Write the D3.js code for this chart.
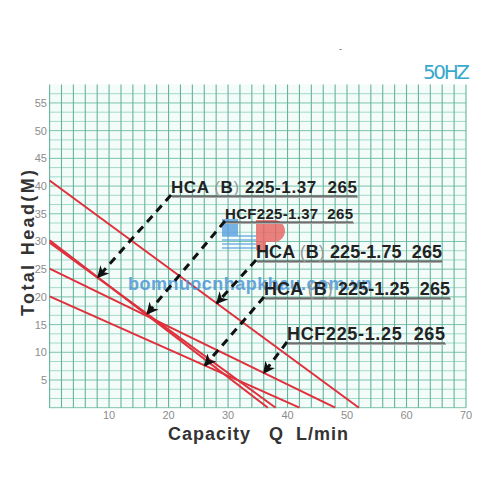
<!DOCTYPE html>
<html>
<head>
<meta charset="utf-8">
<script src="https://cdn.jsdelivr.net/npm/d3@7"></script>
<style>
  body { margin: 0; background: #fff; }
  svg { display: block; }
</style>
</head>
<body>
<div id="chart"></div>
<script>
// pump curves, each drawn as a straight line from shut-off head to max flow
var curveNames = ["HCA (B) 225-1.37  265", "HCF225-1.37  265", "HCA (B) 225-1.75  265",
  "HCA (B) 225-1.25  265", "HCF225-1.25  265"];
var curveFlow = [[0, 36.7], [0, 38], [0, 52], [0, 42], [0, 48]];
var curveHead = [[30.2, 0], [29.8, 0], [41, 0], [20.1, 0], [25.1, 0]];

// where each label's arrow hits its curve (flow value)
var arrowFlow = [8.1, 16.4, 28.1, 26.1, 36];

var xTicks = [10, 20, 30, 40, 50, 60, 70];
var yTicks = [5, 10, 15, 20, 25, 30, 35, 40, 45, 50, 55];

var width = 500, height = 500;
var svg = d3.select("#chart").append("svg")
  .attr("width", width)
  .attr("height", height);

var x = d3.scaleLinear().domain([0, 70]).range([49.6, 466]);
var y = d3.scaleLinear().domain([0, 58.33]).range([407.7, 84.5]);

// grid
var grid = svg.append("g").attr("class", "grid");
grid.append("rect")
  .attr("x", x(0)).attr("y", y(58.33))
  .attr("width", x(70) - x(0)).attr("height", y(0) - y(58.33))
  .attr("fill", "#f3fcf9");
grid.selectAll(".hline")
  .data(d3.range(0, 35).map(i => i * 5 / 3))
  .enter().append("line")
  .attr("class", "hline")
  .attr("x1", x(0)).attr("x2", x(70))
  .attr("y1", d => y(d)).attr("y2", d => y(d))
  .attr("stroke", (d, i) => i % 3 === 0 ? "#7cc3ae" : "#a3d9c9")
  .attr("stroke-width", 1);
grid.selectAll(".vline")
  .data(d3.range(0, 70.01, 2))
  .enter().append("line")
  .attr("class", "vline")
  .attr("x1", d => x(d)).attr("x2", d => x(d))
  .attr("y1", y(0)).attr("y2", y(58.33))
  .attr("stroke", "#66b39d")
  .attr("stroke-width", 1.1);

// tick labels
svg.selectAll(".xtick")
  .data(xTicks)
  .enter().append("text")
  .attr("class", "xtick")
  .attr("x", d => x(d))
  .attr("y", 419)
  .attr("text-anchor", "middle")
  .attr("fill", "#8c8c8c")
  .style("font-family", "Liberation Sans, Arial, sans-serif")
  .style("font-size", "11px")
  .text(d => d);

svg.selectAll(".ytick")
  .data(yTicks)
  .enter().append("text")
  .attr("class", "ytick")
  .attr("x", 47)
  .attr("y", d => y(d) + 4)
  .attr("text-anchor", "end")
  .attr("fill", "#8c8c8c")
  .style("font-family", "Liberation Sans, Arial, sans-serif")
  .style("font-size", "11px")
  .text(d => d);

// axis titles
svg.append("text")
  .attr("transform", "translate(34,243) rotate(-90)")
  .attr("text-anchor", "middle")
  .attr("fill", "#333")
  .attr("textLength", 146)
  .style("font-family", "Liberation Sans, Arial, sans-serif")
  .style("font-weight", "bold")
  .style("font-size", "18px")
  .text("Total  Head(M)");

svg.append("text")
  .attr("x", 168)
  .attr("y", 440)
  .attr("fill", "#333")
  .attr("textLength", 180)
  .style("font-family", "Liberation Sans, Arial, sans-serif")
  .style("font-weight", "bold")
  .style("font-size", "18px")
  .style("white-space", "pre")
  .text("Capacity   Q  L/min");

svg.append("text")
  .attr("x", 423)
  .attr("y", 79)
  .attr("fill", "#3aa8cc")
  .attr("textLength", 47)
  .style("font-family", "DejaVu Sans, sans-serif")
  .style("font-size", "20px")
  .text("50HZ");

svg.append("text")
  .attr("x", 339)
  .attr("y", 52)
  .attr("fill", "#555")
  .style("font-family", "Liberation Sans, Arial, sans-serif")
  .style("font-size", "9px")
  .text("-");

// curves
var curves = curveNames.map((name, i) => ({
  name: name,
  pts: curveFlow[i].map((q, j) => [q, curveHead[i][j]])
}));

var line = d3.line().x(d => x(d[0])).y(d => y(d[1]));

svg.append("g").attr("class", "curves")
  .selectAll("path")
  .data(curves)
  .enter().append("path")
  .attr("d", d => line(d.pts))
  .attr("fill", "none")
  .attr("stroke", "#e0303c")
  .attr("stroke-width", 2);

// watermark
svg.append("text")
  .attr("x", 128)
  .attr("y", 290)
  .attr("fill", "#4f97d6")
  .attr("opacity", 0.85)
  .attr("textLength", 244)
  .style("font-family", "Liberation Sans, Arial, sans-serif")
  .style("font-weight", "bold")
  .style("font-size", "18px")
  .text("bomnuocnhapkhau.com.vn");

var logo = svg.append("g").attr("opacity", 0.8);
logo.append("rect").attr("x", 222).attr("y", 219).attr("width", 16).attr("height", 17).attr("fill", "#5aa0e0");
logo.append("path")
  .attr("d", "M256,220 h18 a11,11 0 0 1 0,22 h-8 v8 h-10 z")
  .attr("fill", "#e8625f");
[236, 240, 244, 248].forEach(function(yy) {
  logo.append("line").attr("x1", 222).attr("x2", 256).attr("y1", yy).attr("y2", yy)
    .attr("stroke", "#5aa0e0").attr("stroke-width", 1.5);
});

// arrow marker
svg.append("defs").append("marker")
  .attr("id", "head")
  .attr("viewBox", "0 0 10 10")
  .attr("refX", 9).attr("refY", 5)
  .attr("markerWidth", 4).attr("markerHeight", 4)
  .attr("orient", "auto")
  .append("path")
  .attr("d", "M0,0 L10,5 L0,10 L3,5 z")
  .attr("fill", "#111");

// labels with dashed arrows
var labelX = [171, 225, 256, 264, 287];
var labelY = [193, 219, 258, 295, 340];
var labelW = [186, 128, 186, 186, 158];
var labelSize = [17, 15, 18, 18, 18];

function headAt(c, q) {
  var p = c.pts;
  return p[0][1] + (p[1][1] - p[0][1]) * (q - p[0][0]) / (p[1][0] - p[0][0]);
}

var labels = svg.append("g").attr("class", "labels");
curves.forEach(function(c, i) {
  var tx = x(arrowFlow[i]), ty = y(headAt(c, arrowFlow[i]));
  labels.append("line")
    .attr("x1", labelX[i]).attr("y1", labelY[i] + 2)
    .attr("x2", tx).attr("y2", ty)
    .attr("stroke", "#111")
    .attr("stroke-width", 3)
    .attr("stroke-dasharray", "8,6")
    .attr("marker-end", "url(#head)");
  labels.append("line")
    .attr("x1", labelX[i] + 1).attr("x2", labelX[i] + labelW[i] + 1)
    .attr("y1", labelY[i] + 4).attr("y2", labelY[i] + 4)
    .attr("stroke", "#aaa").attr("stroke-width", 2);
  labels.append("line")
    .attr("x1", labelX[i]).attr("x2", labelX[i] + labelW[i])
    .attr("y1", labelY[i] + 3).attr("y2", labelY[i] + 3)
    .attr("stroke", "#333").attr("stroke-width", 1);
  var t = labels.append("text")
    .attr("x", labelX[i])
    .attr("y", labelY[i])
    .attr("fill", "#222")
    .attr("textLength", labelW[i])
    .style("font-family", "Liberation Sans, Arial, sans-serif")
    .style("font-weight", "bold")
    .style("font-size", labelSize[i] + "px")
    .style("white-space", "pre");
  // parentheses round "B" are printed lighter
  c.name.split(/([()])/).forEach(function(part) {
    if (part === "") return;
    t.append("tspan")
      .attr("fill", part === "(" || part === ")" ? "#999" : "#222")
      .style("font-weight", part === "(" || part === ")" ? "normal" : "bold")
      .text(part);
  });
});
</script>
</body>
</html>
